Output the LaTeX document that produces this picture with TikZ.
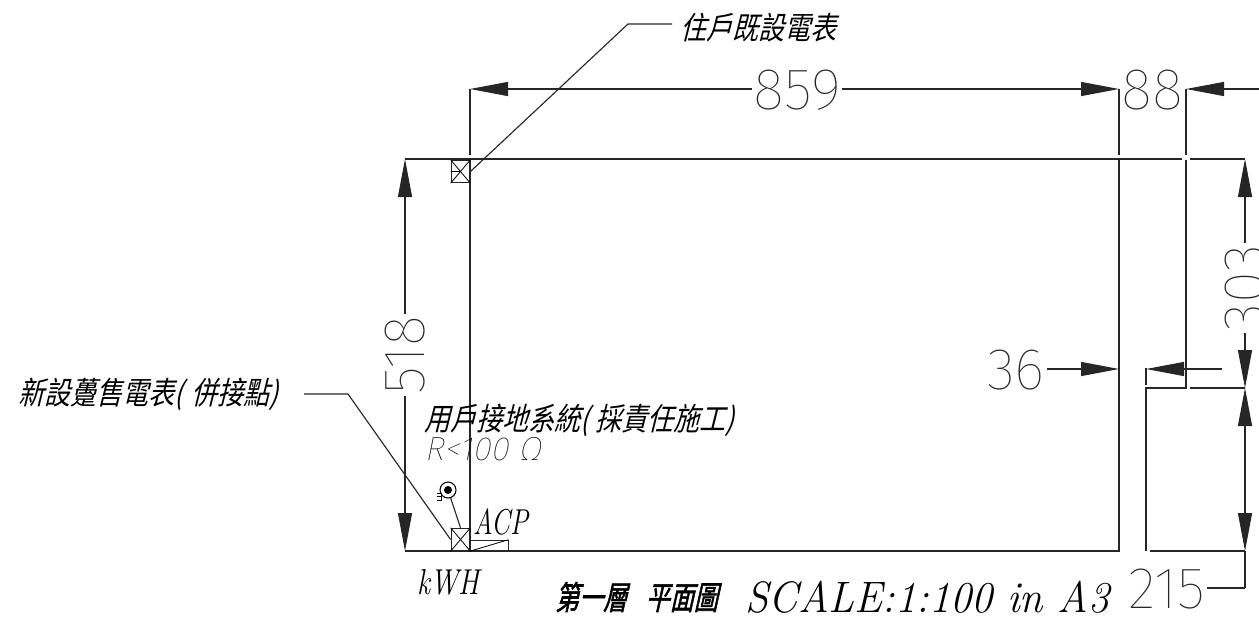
\documentclass[tikz,border=0pt]{standalone}
\usepackage{fontspec}
\usepackage{graphicx}
\usetikzlibrary{arrows.meta}
\newfontfamily\cjk[FakeSlant=0.3]{Noto Sans CJK TC}
\newfontfamily\cjkb[FakeSlant=0.3,FakeBold=2]{Noto Sans CJK TC}
\newfontfamily\thinf{Fira Sans Thin}
\newfontfamily\thini[FakeSlant=0.2]{Fira Sans Thin}
\newcommand{\cjktext}[1]{\scalebox{1}[1.2]{#1}}
\tikzset{
 ln/.style={line width=0.85pt,draw=black!85},
 tip/.tip={Triangle[length=28.5pt,width=10.5pt]},
 dimr/.style={ln,-tip},
 diml/.style={ln,tip-},
 dimb/.style={ln,tip-tip},
 dimnum/.style={font=\thinf\fontsize{44}{44}\selectfont,inner sep=1pt,text=black!85},
 cjkt/.style={font=\cjk\fontsize{19.5}{20}\selectfont,inner sep=0pt,anchor=west},
 lat/.style={font=\itshape\fontsize{27}{27}\selectfont,inner sep=0pt,anchor=west},
 meterbox/.style={draw=black!85,line width=0.7pt,minimum width=14.2pt,minimum height=17pt,inner sep=0pt},
}
\begin{document}
\begin{tikzpicture}[x=0.75pt,y=-0.75pt]
\clip (0,0) rectangle (1259,618);
% named points
\coordinate (tl) at (405,159); \coordinate (tr) at (1182,159); \coordinate (tr2) at (1190,159); \coordinate (trr) at (1245,159);
\coordinate (bl) at (405,551); \coordinate (br) at (1119,551);
\coordinate (a) at (470,89); \coordinate (a1) at (470,155); \coordinate (a2) at (470,551);
\coordinate (b) at (1119,89); \coordinate (b1) at (1119,155); \coordinate (b2) at (1119,160);
\coordinate (c) at (1186,89); \coordinate (c1) at (1186,155); \coordinate (c2) at (1186,160); \coordinate (c3) at (1186,388);
\coordinate (d1) at (1146,368); \coordinate (d2) at (1146,385); \coordinate (d3) at (1146,388); \coordinate (d4) at (1146,551);
\coordinate (e1) at (1190,388); \coordinate (e2) at (1245,388);
\coordinate (f1) at (1150,551); \coordinate (f2) at (1245,551); \coordinate (f3) at (1245,588);
% outlines
\draw[ln] (tl) -- (tr); \draw[ln] (tr2) -- (trr);
\draw[ln] (bl) -- (br) -- (b2);
\draw[ln] (a) -- (a1); \draw[ln] (470,159) -- (a2);
\draw[ln] (b) -- (b1);
\draw[ln] (c) -- (c1); \draw[ln] (c2) -- (c3) -- (d3) -- (d4);
\draw[ln] (d1) -- (d2);
\draw[ln] (e1) -- (e2); \draw[ln] (f1) -- (f2);
% dimensions
\node[dimnum] (n859) at (797,90) {859};
\draw[diml] (a) -- (n859.west |- a);
\draw[dimr] (n859.east |- a) -- (b);
\node[dimnum] (n88) at (1152,90) {88};
\coordinate (cr) at (1259,89);
\draw[dimr] (cr) -- (c);
\node[dimnum,rotate=90] (n518) at (405,355) {518};
\draw[diml] (tl) -- (n518.east -| tl);
\draw[dimr] (n518.west -| tl) -- (bl);
\node[dimnum,rotate=90] (n303) at (1245,288) {303};
\draw[diml] (trr) -- (n303.east -| trr);
\draw[dimr] (n303.west -| trr) -- (e2);
\draw[dimb] (e2) -- (f2);
\draw[ln] (f2) -- (f3);
\node[dimnum] (n215) at (1167,589) {215};
\draw[ln] (f3) -- (n215.east |- f3);
\node[dimnum] (n36) at (1016,370) {36};
\coordinate (g2) at (1119,369); \coordinate (g3) at (1146,369); \coordinate (g4) at (1222,369);
\draw[dimr] (n36.east |- g2) -- (g2);
\draw[dimr] (g4) -- (g3);
% existing meter
\node[meterbox] (m1) at (460.5,171.5) {};
\draw[line width=0.6pt] (m1.north west) -- (m1.south east) (m1.north east) -- (m1.south west) (m1.west) -- (m1.center);
\coordinate (l1) at (628,24); \coordinate (l1e) at (672,24);
\draw[ln] (m1.east) -- (l1) -- (l1e);
\node[cjkt] (t1) at (680,28) {\cjktext{住戶既設電表}};
% new meter
\node[meterbox] (m2) at (460.5,539.5) {};
\draw[line width=0.6pt] (m2.north west) -- (m2.south east) (m2.north east) -- (m2.south west);
\coordinate (l2) at (348,394); \coordinate (l2e) at (304,394);
\draw[ln] (m2.west) -- (l2) -- (l2e);
\node[cjkt] (t2) at (18,394) {\cjktext{新設躉售電表(\kern6pt 併接點)}};
\node[cjkt] (t3) at (424,420) {\cjktext{用戶接地系統(\kern5pt 採責任施工)}};
\node[font=\thini\fontsize{25}{25}\selectfont,inner sep=0pt,anchor=west,text=black] (t4) at (424,449) {R<100 Ω};
% ACP
\node[draw=black!85,line width=0.7pt,minimum width=28.5pt,minimum height=8pt,inner sep=0pt] (acp) at (489,545.5) {};
\draw[line width=0.6pt] (acp.south west) -- (acp.north east);
\node[lat] (t5) at (473,522) {\scalebox{0.75}[1]{ACP}};
\node[lat] (t6) at (417,582) {\scalebox{0.8}[1]{kWH}};
% ground
\node[circle,draw=black,line width=0.8pt,minimum size=12pt,inner sep=0pt] (g) at (448,490) {};
\node[circle,fill=black,minimum size=6pt,inner sep=0pt] (gd) at (448,490) {};
\draw[ln] (g) -- (m2.north);
\draw[line width=0.6pt] (437,493) -- (441,493) -- (441,500) -- (437,500) (437,496.5) -- (441,496.5);
% title
\node[font=\cjkb\fontsize{18}{18}\selectfont,inner sep=0pt,anchor=west] (t7) at (555,597) {\scalebox{1}[1.35]{第一層\kern14pt 平面圖}};
\node[font=\itshape\fontsize{33}{33}\selectfont,inner sep=0pt,anchor=west] (t8) at (745,597) {\scalebox{.96}[1]{SCALE:1:100 in A3}};
\end{tikzpicture}
\end{document}
